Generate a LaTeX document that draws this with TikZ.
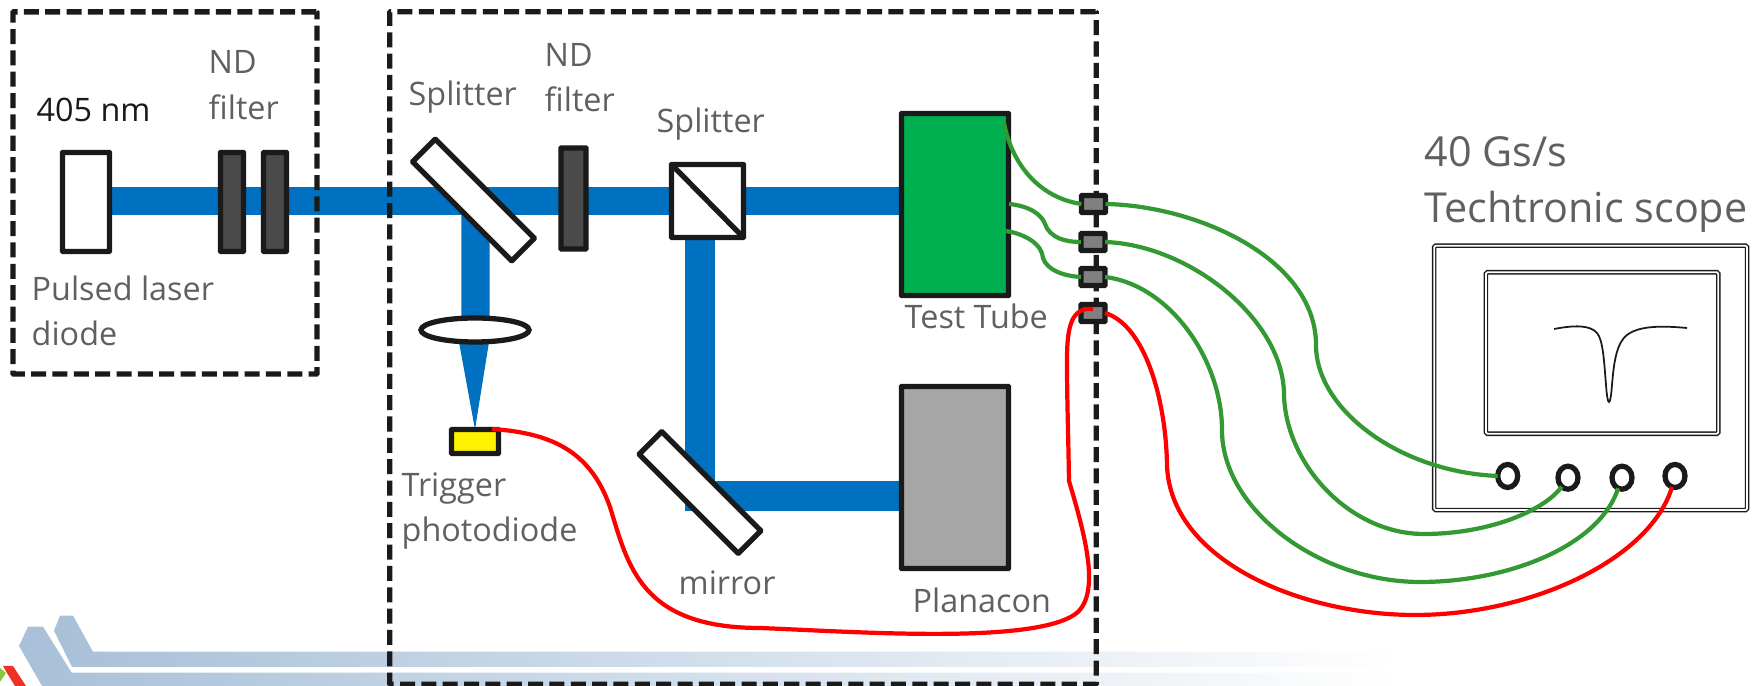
\documentclass[tikz,border=0pt]{standalone}
\usepackage{fontspec}
\setmainfont{Open Sans}
\usepackage{xcolor}
\usepackage{tikz}
\usetikzlibrary{shapes.geometric, positioning, backgrounds}
\definecolor{beamblue}{RGB}{0,112,192}
\definecolor{inkblack}{RGB}{26,26,26}
\definecolor{lblgray}{RGB}{96,96,96}
\definecolor{tubegreen}{RGB}{0,176,80}
\definecolor{wiregreen}{RGB}{51,153,51}
\definecolor{ndgray}{RGB}{74,74,74}
\definecolor{logoblue}{RGB}{168,192,216}
\definecolor{logogreen}{RGB}{140,198,63}
\definecolor{logored}{RGB}{238,49,36}
\tikzset{
    optbox/.style={rectangle, draw=inkblack, line width=1.5pt, rounded corners=0.15pt,
                   inner sep=0pt, outer sep=0pt, fill=white},
    ndbox/.style={optbox, fill=ndgray, minimum width=0.23cm, minimum height=0.99cm},
    slab/.style={optbox, minimum width=1.40cm, minimum height=0.32cm, rotate=-45},
    detbox/.style={optbox, minimum width=1.07cm, minimum height=1.82cm},
    connbox/.style={optbox, fill=gray, minimum width=0.24cm, minimum height=0.17cm},
    dashbox/.style={rectangle, draw=inkblack, line width=1.5pt, rounded corners=0.2pt,
                    dash pattern=on 4.27pt off 1.8pt, inner sep=0pt, outer sep=0pt},
    ring/.style={ellipse, draw=inkblack, line width=1.5pt, fill=white, inner sep=0pt,
                 outer sep=0pt, minimum width=0.20cm, minimum height=0.23cm},
    scopebox/.style={rectangle, draw=inkblack, line width=0.4pt, double=white,
                     double distance=0.5pt, rounded corners=0.4pt, inner sep=0pt, outer sep=0pt},
    beam/.style={line width=0.28cm, draw=beamblue},
    grnwire/.style={line width=1.2pt, draw=wiregreen},
    redwire/.style={line width=1.2pt, draw=red},
    lbl/.style={anchor=base west, inner sep=0pt, text=lblgray, align=left,
                font=\fontsize{9.2}{12.9}\selectfont},
    biglbl/.style={lbl, font=\fontsize{11.75}{15.9}\selectfont},
}
\begin{document}
\begin{tikzpicture}[x=0.01cm, y=-0.01cm]
    \useasboundingbox (0,0) rectangle (1759,686);
    % dashed enclosures
    \node[dashbox, minimum width=3.04cm, minimum height=3.62cm] (laserbox) at (165,193) {};
    \node[dashbox, minimum width=7.06cm, minimum height=6.72cm] (tablebox) at (743,348) {};
    % optics
    \node[optbox, minimum width=0.47cm, minimum height=0.99cm] (laser) at (86,202) {};
    \node[ndbox] (nda) at (232,202) {};
    \node[ndbox, right=0.20cm of nda] (ndb) {};
    \node[slab] (splita) at (473.5,200) {};
    \node[ndbox, minimum width=0.25cm, minimum height=1.01cm] (ndc) at (573.5,198.5) {};
    \node[optbox, minimum width=0.72cm, minimum height=0.73cm] (cube) at (707.5,201) {};
    \draw[draw=inkblack, line width=1.5pt] (cube.north west) -- (cube.south east);
    \node[slab] (mirror) at (700,492.5) {};
    \node[optbox, ellipse, minimum width=1.08cm, minimum height=0.24cm] (lens) at (475,330) {};
    \node[optbox, fill=yellow, minimum width=0.47cm, minimum height=0.24cm] (trigdiode) at (475,441.5) {};
    \node[detbox, fill=tubegreen] (tube) at (955,204.5) {};
    \node[detbox, fill=black!35] (planacon) at (955,477.5) {};
    % feedthroughs
    \node[connbox] (conna) at (1093.5,204) {};
    \node[connbox] (connb) at (1093,242) {};
    \node[connbox] (connc) at (1093,277) {};
    \node[connbox] (connd) at (1093,313) {};
    % scope
    \node[scopebox, minimum width=3.127cm, minimum height=2.642cm] (scope) at (1590.6,377.9) {};
    \node[scopebox, minimum width=2.323cm, minimum height=1.614cm] (screen) at (1602.1,353) {};
    \draw[draw=inkblack, line width=0.5pt] (1554,329) .. controls (1575,325) and (1590,325) .. (1597,333)
        .. controls (1603,340) and (1604,360) .. (1606,385)
        .. controls (1607,398) and (1608,402) .. (1609,402)
        .. controls (1610,402) and (1611,398) .. (1612,385)
        .. controls (1614,360) and (1617,343) .. (1627,335)
        .. controls (1640,325) and (1665,326) .. (1687,328);
    \node[ring] (porta) at (1507.7,476) {};
    \node[ring] (portb) at (1568,477.7) {};
    \node[ring] (portc) at (1622,477.7) {};
    \node[ring] (portd) at (1675,476) {};
    % beams and slide decoration go underneath
    \begin{scope}[on background layer]
        \shade[left color=logoblue, right color=white, draw=none]
            (60,615.7) -- (73,615.7) -- (93,651.7) -- (1400,651.7) -- (1400,667) -- (72,667) -- (54,630.7) -- cycle;
        \shade[left color=logoblue, right color=white, draw=none]
            (28,626.7) -- (43,626.7) -- (71.7,672.7) -- (1400,672.7) -- (1400,686) -- (42,686) -- (19,646) -- cycle;
        \fill[logored] (3,666) -- (13,666) -- (26,686) -- (15,686) -- (7,673) -- cycle;
        \fill[logogreen] (0,668) -- (6,673) -- (0,682) -- cycle;
        \coordinate (beamin) at (109,201);
        \coordinate (turn) at (700,496);
        \draw[beam] (beamin) -- (beamin -| tube.west);
        \draw[beam] ([xshift=0.02cm]splita.center) -- ([xshift=0.005cm]lens.north);
        \draw[beam, line width=0.30cm] (cube.south -| turn) -- (turn) -- (turn -| planacon.west);
        \fill[beamblue] ([xshift=-0.16cm]lens.south) -- ([xshift=0.14cm]lens.south) -- (trigdiode.north) -- cycle;
    \end{scope}
    % cables
    \coordinate (tapa) at (1004,123);
    \coordinate (tapb) at (1009,204);
    \coordinate (tapc) at (1006,231);
    \coordinate (trigout) at (492,429);
    \draw[grnwire] (tapa) .. controls (1012,165) and (1040,198) .. (conna.west);
    \draw[grnwire] (tapb) .. controls (1030,206) and (1042,215) .. (1045,224)
        .. controls (1050,238) and (1065,242) .. (connb.west);
    \draw[grnwire] (tapc) .. controls (1025,234) and (1042,244) .. (1043,258)
        .. controls (1047,270) and (1063,276) .. (connc.west);
    \draw[grnwire] (conna.east) .. controls (1200,206) and (1316,260) .. (1316,345)
        .. controls (1316,410) and (1400,472) .. (porta.west);
    \draw[grnwire] (connb.east) .. controls (1190,245) and (1284,320) .. (1284,395)
        .. controls (1286,465) and (1350,534) .. (1424,534)
        .. controls (1490,534) and (1545,510) .. (portb.235);
    \draw[grnwire] (connc.east) .. controls (1170,285) and (1222,360) .. (1222,430)
        .. controls (1222,510) and (1320,582) .. (1420,582)
        .. controls (1510,582) and (1600,545) .. (portc.250);
    \draw[redwire] (connd.east) .. controls (1145,325) and (1166,400) .. (1167,465)
        .. controls (1170,560) and (1300,615) .. (1415,615)
        .. controls (1530,615) and (1650,560) .. (portd.255);
    \draw[redwire] (trigout) .. controls (550,433) and (590,450) .. (610,507)
        .. controls (628,565) and (640,628) .. (760,628)
        .. controls (860,632) and (1040,645) .. (1078,612)
        .. controls (1100,590) and (1085,535) .. (1069,481)
        .. controls (1068,420) and (1067,400) .. (1067,360)
        .. controls (1067,325) and (1072,307) .. ([yshift=0.04cm]connd.center);
    % labels
    \node[lbl, text=inkblack] (wavelbl) at (36,121.7) {405 nm};
    \node[lbl] (ndalbl) at (208,119.3) {ND\\filter};
    \node[lbl] (splitalbl) at (408,106) {Splitter};
    \node[lbl] (ndclbl) at (544,111.7) {ND\\filter};
    \node[lbl] (splitblbl) at (656,132.7) {Splitter};
    \node[lbl] (laserlbl) at (31,345.7) {Pulsed laser\\diode};
    \node[lbl] (trigdlbl) at (401,541.7) {Trigger\\photodiode};
    \node[lbl] (mirrorlbl) at (678,595) {mirror};
    \node[lbl] (tubelbl) at (904,329) {Test Tube};
    \node[lbl] (planlbl) at (912,613) {Planacon};
    \node[biglbl] (scopelbl) at (1424,222.6) {40 Gs/s\\Techtronic scope};
\end{tikzpicture}
\end{document}
